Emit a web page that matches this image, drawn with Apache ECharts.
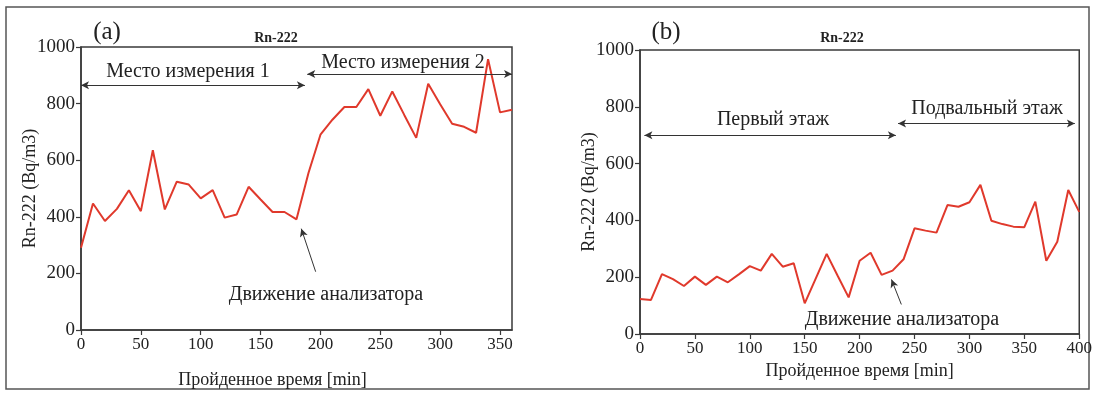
<!DOCTYPE html>
<html><head><meta charset="utf-8">
<script src="https://cdn.jsdelivr.net/npm/echarts@6/dist/echarts.min.js"></script>
<style>html,body{margin:0;padding:0;background:#fff}#c{width:1095px;height:394px}</style>
</head><body><div id="c"></div>
<script>
// Panel (a): Место измерения 1 / 2
const timesA = [0,10,20,30,40,50,60,70,80,90,100,110,120,130,140,150,160,170,180,190,200,210,220,230,240,250,260,270,280,290,300,310,320,330,340,350,360];
const rnA = [291,447,385,428,494,420,635,426,524,514,465,494,397,408,506,461,417,417,391,555,690,743,788,788,851,757,843,760,679,870,798,729,718,697,957,769,778];
// Panel (b): Первый этаж / Подвальный этаж
const timesB = [0,10,20,30,40,50,60,70,80,90,100,110,120,130,140,150,160,170,180,190,200,210,220,230,240,250,260,270,280,290,300,310,320,330,340,350,360,370,380,390,400];
const rnB = [123,120,211,193,169,202,173,202,182,210,239,223,282,237,249,108,195,282,205,129,258,286,208,223,263,372,364,357,454,448,464,525,399,387,378,376,466,258,325,507,430];
const yTicks = ['0','200','400','600','800','1000'];
const xTicksA = ['0','50','100','150','200','250','300','350'];
const xTicksB = ['0','50','100','150','200','250','300','350','400'];

const serif = 'Liberation Serif';
const axisCol = '#3a3a3a';
const lineCol = '#e0392c';

function zip(xs, ys){ return xs.map((x,i)=>[x, ys[i]]); }

function xAxis(gi, max, interval, nameGap, ticks, pad){
  return {
    gridIndex: gi, type:'value', min:0, max:max, interval:interval,
    axisLine:{show:true, onZero:false, lineStyle:{color:axisCol, width:1.5}},
    axisTick:{show:true, length:5, lineStyle:{color:axisCol, width:1.2}},
    axisLabel:{fontFamily:serif, fontSize:17, color:'#222', margin:6, showMaxLabel: max % interval === 0,
      formatter:(v)=> ticks.includes(String(v)) ? String(v) : ''},
    splitLine:{show:false},
    name:'Пройденное время [min]', nameLocation:'middle', nameGap:nameGap, nameMoveOverlap:false,
    nameTextStyle:{fontFamily:serif, fontSize:18, color:'#222', padding:pad}
  };
}
function yAxis(gi){
  return {
    gridIndex: gi, type:'value', min:0, max:1000, interval:200,
    axisLine:{show:true, lineStyle:{color:axisCol, width:1.5}},
    axisTick:{show:true, length:5, lineStyle:{color:axisCol, width:1.2}},
    axisLabel:{fontFamily:serif, fontSize:19, color:'#222', margin:6,
      formatter:(v)=> yTicks.includes(String(v)) ? String(v) : ''},
    splitLine:{show:false},
    name:'Rn-222 (Bq/m3)', nameLocation:'middle', nameGap:42, nameMoveOverlap:false,
    nameTextStyle:{fontFamily:serif, fontSize:18, color:'#222'}
  };
}
const arrowLine = {color:'#333', width:1, type:'solid'};
const annFont = '20px "Liberation Serif"';

const option = {
  animation:false,
  backgroundColor:'#fff',
  grid:[
    {left:81, top:47, width:431, height:284, show:true, borderColor:axisCol, borderWidth:1.5},
    {left:640, top:50, width:440, height:284, show:true, borderColor:axisCol, borderWidth:1.5}
  ],
  xAxis:[xAxis(0,360,50,41,xTicksA,[0,48,0,0]), xAxis(1,400,50,28,xTicksB,[0,0,0,0])],
  yAxis:[yAxis(0), yAxis(1)],
  series:[
    {type:'line', xAxisIndex:0, yAxisIndex:0, data:zip(timesA,rnA), showSymbol:false, silent:true,
     lineStyle:{color:lineCol, width:2}, itemStyle:{color:lineCol},
     markLine:{silent:true, symbol:['arrow','arrow'], symbolSize:[6,8], label:{show:false}, lineStyle:arrowLine,
       data:[
         [{coord:[0,865]},{coord:[187,865]}],
         [{coord:[189,905]},{coord:[360,905]}],
         [{coord:[196,206], symbol:'none'},{coord:[184,358], symbol:'arrow'}]
       ]}
    },
    {type:'line', xAxisIndex:1, yAxisIndex:1, data:zip(timesB,rnB), showSymbol:false, silent:true,
     lineStyle:{color:lineCol, width:2}, itemStyle:{color:lineCol},
     markLine:{silent:true, symbol:['arrow','arrow'], symbolSize:[6,8], label:{show:false}, lineStyle:arrowLine,
       data:[
         [{coord:[4,700]},{coord:[233,700]}],
         [{coord:[235,741]},{coord:[396,741]}],
         [{coord:[238,104], symbol:'none'},{coord:[229,192], symbol:'arrow'}]
       ]}
    }
  ],
  graphic:[
    {type:'rect', shape:{x:6, y:7, width:1083, height:382}, style:{fill:'none', stroke:'#555', lineWidth:1.5}, silent:true},
    {type:'text', x:107, y:32, style:{text:'(a)', font:'25px "Liberation Serif"', fill:'#222', align:'center', verticalAlign:'middle'}},
    {type:'text', x:276, y:38, style:{text:'Rn-222', font:'bold 14px "Liberation Serif"', fill:'#222', align:'center', verticalAlign:'middle'}},
    {type:'text', x:666, y:32, style:{text:'(b)', font:'25px "Liberation Serif"', fill:'#222', align:'center', verticalAlign:'middle'}},
    {type:'text', x:842, y:38, style:{text:'Rn-222', font:'bold 14px "Liberation Serif"', fill:'#222', align:'center', verticalAlign:'middle'}},
    {type:'text', x:188, y:72, style:{text:'Место измерения 1', font:annFont, fill:'#222', align:'center', verticalAlign:'middle'}},
    {type:'text', x:403, y:63, style:{text:'Место измерения 2', font:annFont, fill:'#222', align:'center', verticalAlign:'middle'}},
    {type:'text', x:326, y:295, style:{text:'Движение анализатора', font:annFont, fill:'#222', align:'center', verticalAlign:'middle'}},
    {type:'text', x:773, y:120, style:{text:'Первый этаж', font:annFont, fill:'#222', align:'center', verticalAlign:'middle'}},
    {type:'text', x:987, y:109, style:{text:'Подвальный этаж', font:annFont, fill:'#222', align:'center', verticalAlign:'middle'}},
    {type:'text', x:902, y:320, style:{text:'Движение анализатора', font:annFont, fill:'#222', align:'center', verticalAlign:'middle'}}
  ]
};
const chart = echarts.init(document.getElementById('c'), null, {renderer:'canvas'});
chart.setOption(option);
</script>
</body></html>
